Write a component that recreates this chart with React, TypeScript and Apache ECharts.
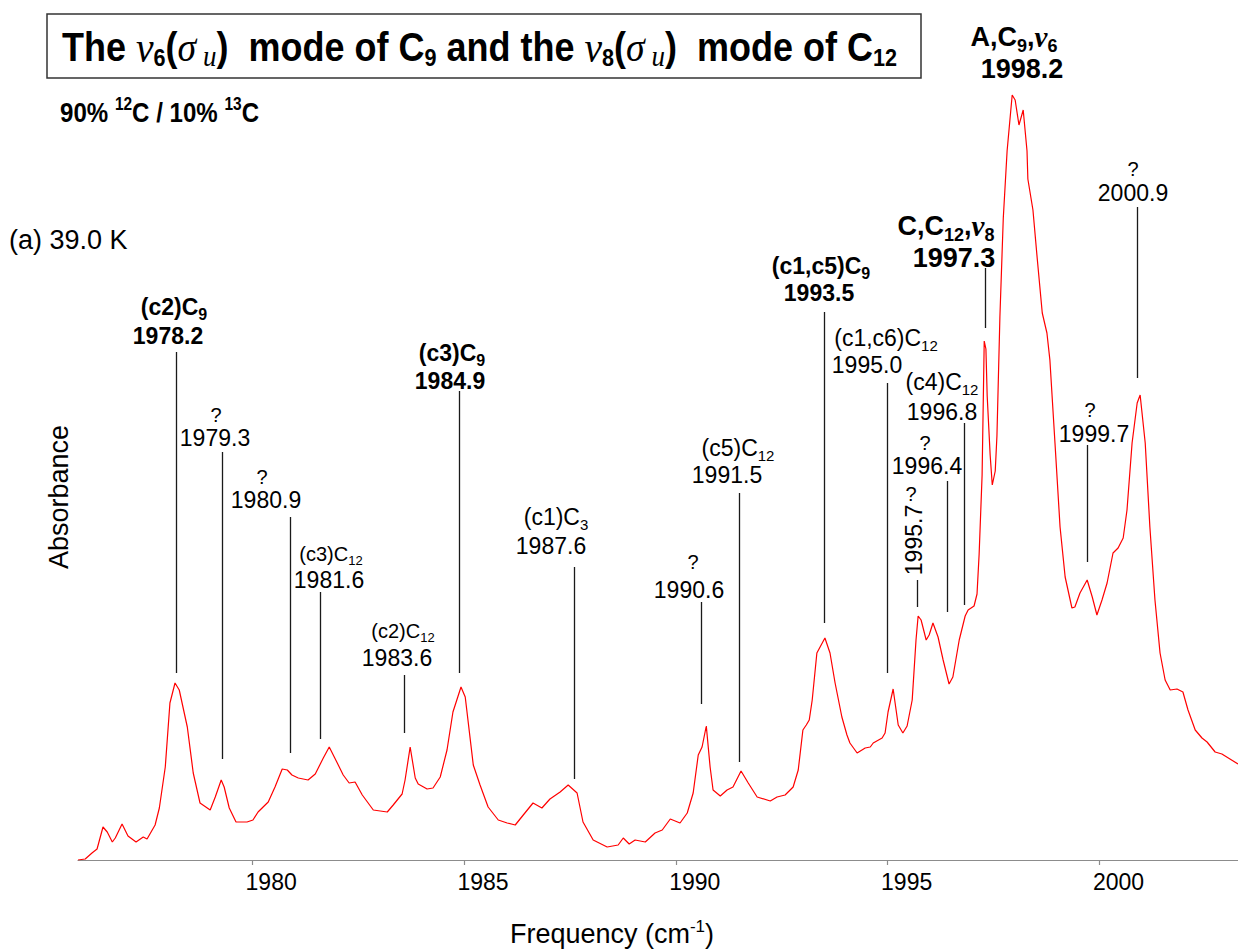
import React, { useEffect, useRef } from 'react';
import * as echarts from 'echarts';

// IR absorption spectrum, 90% 12C / 10% 13C, 39.0 K
const wavenumber = [
  1975.89, 1976.06, 1976.22, 1976.34, 1976.48, 1976.58, 1976.7, 1976.77, 1976.93, 1977.07,
  1977.26, 1977.43, 1977.52, 1977.71, 1977.81, 1977.95, 1978.06, 1978.18, 1978.28, 1978.47,
  1978.61, 1978.77, 1979.01, 1979.13, 1979.27, 1979.34, 1979.46, 1979.62, 1979.88, 1980.02,
  1980.14, 1980.38, 1980.54, 1980.71, 1980.83, 1980.94, 1981.09, 1981.32, 1981.49, 1981.68,
  1981.82, 1982.01, 1982.15, 1982.29, 1982.43, 1982.6, 1982.86, 1983.19, 1983.33, 1983.54,
  1983.61, 1983.73, 1983.85, 1983.92, 1984.13, 1984.27, 1984.44, 1984.6, 1984.74, 1984.93,
  1985.03, 1985.22, 1985.38, 1985.57, 1985.81, 1986.02, 1986.21, 1986.4, 1986.63, 1986.84,
  1987.03, 1987.27, 1987.46, 1987.67, 1987.81, 1988.05, 1988.38, 1988.64, 1988.76, 1988.9,
  1989.04, 1989.28, 1989.51, 1989.68, 1989.87, 1990.1, 1990.27, 1990.41, 1990.53, 1990.62,
  1990.72, 1990.81, 1990.88, 1991.05, 1991.21, 1991.35, 1991.54, 1991.71, 1991.92, 1992.23,
  1992.39, 1992.58, 1992.77, 1992.89, 1993.0, 1993.08, 1993.15, 1993.22, 1993.33, 1993.52,
  1993.64, 1993.76, 1993.92, 1994.04, 1994.11, 1994.28, 1994.47, 1994.59, 1994.66, 1994.87,
  1994.94, 1995.01, 1995.13, 1995.25, 1995.36, 1995.46, 1995.58, 1995.67, 1995.72, 1995.79,
  1995.91, 1995.98, 1996.07, 1996.19, 1996.31, 1996.45, 1996.54, 1996.69, 1996.83, 1996.9,
  1997.04, 1997.11, 1997.16, 1997.23, 1997.28, 1997.32, 1997.35, 1997.42, 1997.47, 1997.54,
  1997.58, 1997.65, 1997.73, 1997.82, 1997.94, 1998.01, 1998.1, 1998.2, 1998.29, 1998.31,
  1998.43, 1998.53, 1998.65, 1998.76, 1998.83, 1998.95, 1999.07, 1999.19, 1999.35, 1999.42,
  1999.54, 1999.71, 1999.83, 1999.94, 2000.06, 2000.18, 2000.32, 2000.44, 2000.56, 2000.65,
  2000.77, 2000.89, 2000.96, 2001.08, 2001.19, 2001.31, 2001.43, 2001.55, 2001.67, 2001.83,
  2001.97, 2002.09, 2002.26, 2002.42, 2002.54, 2002.73, 2002.89, 2003.08, 2003.27,
];

const absorbance = [
  0.0, 0.001, 0.007, 0.011, 0.033, 0.028, 0.018, 0.022, 0.036, 0.024,
  0.018, 0.023, 0.021, 0.035, 0.052, 0.093, 0.157, 0.177, 0.17, 0.133,
  0.087, 0.057, 0.05, 0.063, 0.08, 0.073, 0.052, 0.038, 0.038, 0.04,
  0.048, 0.058, 0.073, 0.091, 0.09, 0.085, 0.082, 0.08, 0.086, 0.102,
  0.113, 0.097, 0.085, 0.077, 0.078, 0.065, 0.05, 0.048, 0.055, 0.066,
  0.08, 0.113, 0.082, 0.076, 0.071, 0.072, 0.083, 0.11, 0.148, 0.173,
  0.163, 0.095, 0.075, 0.053, 0.04, 0.037, 0.035, 0.045, 0.057, 0.052,
  0.061, 0.068, 0.075, 0.067, 0.038, 0.02, 0.013, 0.015, 0.022, 0.016,
  0.02, 0.018, 0.027, 0.03, 0.041, 0.037, 0.047, 0.067, 0.105, 0.113,
  0.134, 0.093, 0.07, 0.064, 0.07, 0.073, 0.089, 0.077, 0.063, 0.059,
  0.063, 0.065, 0.073, 0.09, 0.13, 0.135, 0.14, 0.16, 0.207, 0.222,
  0.207, 0.177, 0.143, 0.125, 0.117, 0.107, 0.112, 0.113, 0.117, 0.122,
  0.127, 0.148, 0.171, 0.135, 0.127, 0.134, 0.16, 0.22, 0.244, 0.24,
  0.22, 0.225, 0.237, 0.223, 0.2, 0.176, 0.183, 0.22, 0.244, 0.25,
  0.254, 0.266, 0.306, 0.385, 0.519, 0.511, 0.464, 0.405, 0.375, 0.389,
  0.424, 0.543, 0.642, 0.709, 0.765, 0.76, 0.735, 0.75, 0.709, 0.681,
  0.65, 0.602, 0.547, 0.527, 0.5, 0.417, 0.333, 0.283, 0.252, 0.253,
  0.267, 0.28, 0.263, 0.245, 0.26, 0.277, 0.307, 0.312, 0.322, 0.35,
  0.417, 0.457, 0.465, 0.417, 0.333, 0.26, 0.207, 0.18, 0.17, 0.171,
  0.168, 0.15, 0.13, 0.122, 0.118, 0.108, 0.106, 0.101, 0.096,
];

const tickValues = [1980, 1985, 1990, 1995, 2000];

// Assigned band positions (cm-1) and their assignments
const bandPositions = [
  1978.2, 1979.3, 1980.9, 1981.6, 1983.6, 1984.9, 1987.6, 1990.6, 1991.5,
  1993.5, 1995.0, 1995.7, 1996.4, 1996.8, 1997.3, 1998.2, 1999.7, 2000.9,
];

const bandAssignments = [
  '{b|(c2)C}{bs|9}', '{q|?}', '{q|?}', '{s|(c3)C}{ss|12}', '{s|(c2)C}{ss|12}',
  '{b|(c3)C}{bs|9}', '{n|(c1)C}{ns|3}', '{q|?}', '{n|(c5)C}{ns|12}',
  '{b|(c1,c5)C}{bs|9}', '{n|(c1,c6)C}{ns|12}', '{q|?}', '{q|?}', '{n|(c4)C}{ns|12}',
  '{B|C,C}{Bs|12}{B|,}{Bnu|ν}{Bs|8}', '{B|A,C}{Bs|9}{B|,}{Bnu|ν}{Bs|6}', '{q|?}', '{q|?}',
];

const bandEmphasis = [
  'bold', 'plain', 'plain', 'plain', 'plain', 'bold', 'plain', 'plain', 'plain',
  'bold', 'plain', 'plain', 'plain', 'plain', 'big', 'big', 'plain', 'plain',
];

// Label placement (px) and marker extent (absorbance units):
// [nameX, nameY, valueX, valueY, lineTop, lineBottom, rotatedValue]
const bandLayout: [number, number, number, number, number | null, number | null, boolean][] = [
  [174, 307, 168, 336, 0.508, 0.187, false],
  [216, 415, 215, 438, 0.408, 0.101, false],
  [262, 477, 266, 500, 0.343, 0.107, false],
  [331, 554, 329, 580, 0.268, 0.121, false],
  [403, 631, 397, 658, 0.185, 0.127, false],
  [452, 353, 450, 381, 0.469, 0.187, false],
  [556, 517, 551, 546, 0.293, 0.081, false],
  [693, 562, 689, 590, 0.258, 0.156, false],
  [738, 448, 727, 475, 0.367, 0.098, false],
  [821, 266, 819, 293, 0.548, 0.237, false],
  [886, 338, 867, 365, 0.477, 0.187, false],
  [911, 494, 914, 540, 0.28, 0.253, true],
  [925, 443, 927, 466, 0.379, 0.248, false],
  [942, 382, 942, 412, 0.437, 0.255, false],
  [946, 226, 954, 258, 0.592, 0.532, false],
  [1014, 37, 1022, 69, null, null, false],
  [1090, 410, 1094, 434, 0.415, 0.298, false],
  [1133, 169, 1133, 193, 0.653, 0.482, false],
];

const sans = '"Liberation Sans", Arial, Helvetica, sans-serif';
const serif = '"Liberation Serif", "Times New Roman", serif';

// subscripts are lowered (and superscripts raised) by half their extra padding
const rich: Record<string, any> = {
  n: { fontFamily: sans, fontSize: 23, lineHeight: 23 },
  ns: { fontFamily: sans, fontSize: 15, lineHeight: 15, padding: [14, 0, 0, 0] },
  s: { fontFamily: sans, fontSize: 20, lineHeight: 20 },
  ss: { fontFamily: sans, fontSize: 13, lineHeight: 13, padding: [12, 0, 0, 0] },
  q: { fontFamily: sans, fontSize: 20, lineHeight: 20 },
  b: { fontFamily: sans, fontSize: 23, fontWeight: 'bold', lineHeight: 23 },
  bs: { fontFamily: sans, fontSize: 16, fontWeight: 'bold', lineHeight: 16, padding: [14, 0, 0, 0] },
  B: { fontFamily: sans, fontSize: 27, fontWeight: 'bold', lineHeight: 27 },
  Bs: { fontFamily: sans, fontSize: 18, fontWeight: 'bold', lineHeight: 18, padding: [17, 0, 0, 0] },
  Bnu: { fontFamily: serif, fontSize: 29, fontStyle: 'italic', fontWeight: 'bold', lineHeight: 27 },
  t: { fontFamily: sans, fontSize: 40, fontWeight: 'bold', lineHeight: 40 },
  tnu: { fontFamily: serif, fontSize: 44, fontStyle: 'italic', lineHeight: 40 },
  tsig: { fontFamily: serif, fontSize: 42, fontStyle: 'italic', lineHeight: 40 },
  tsub: { fontFamily: sans, fontSize: 24, fontWeight: 'bold', lineHeight: 24, padding: [22, 0, 0, 0] },
  tu: { fontFamily: serif, fontSize: 30, fontStyle: 'italic', lineHeight: 30, padding: [18, 0, 0, 0] },
  p: { fontFamily: sans, fontSize: 28, fontWeight: 'bold', lineHeight: 28 },
  psup: { fontFamily: sans, fontSize: 18, fontWeight: 'bold', lineHeight: 18, padding: [0, 0, 16, 0] },
  a: { fontFamily: sans, fontSize: 27, lineHeight: 27 },
  asup: { fontFamily: sans, fontSize: 17, lineHeight: 17, padding: [0, 0, 16, 0] },
};

function textEl(x: number, y: number, markup: string, align = 'center', extra: any = {}) {
  return {
    type: 'text',
    x,
    y,
    silent: true,
    ...extra,
    style: {
      text: markup,
      rich,
      fill: '#000',
      font: `23px ${sans}`,
      align,
      textAlign: align,
      verticalAlign: 'middle',
      textVerticalAlign: 'middle',
    },
  };
}

const titleMarkup =
  '{t|The }{tnu|ν}{tsub|6}{t|(}{tsig|σ}{tu| u}{t|)  mode of C}{tsub|9}{t| and the }' +
  '{tnu|ν}{tsub|8}{t|(}{tsig|σ}{tu| u}{t|)  mode of C}{tsub|12}';

export default function App() {
  const ref = useRef<HTMLDivElement>(null);

  useEffect(() => {
    if (!ref.current) return;
    const chart = echarts.init(ref.current, undefined, { renderer: 'svg' });

    const markers = bandPositions
      .map((f, i) => {
        const [, , , , top, bottom] = bandLayout[i];
        if (top === null || bottom === null) return null;
        return [{ coord: [f, top] }, { coord: [f, bottom] }];
      })
      .filter(Boolean);

    const graphics: any[] = [
      {
        type: 'rect',
        silent: true,
        shape: { x: 47, y: 14, width: 874, height: 64 },
        style: { fill: 'none', stroke: '#333', lineWidth: 1.5 },
      },
      textEl(62, 47, titleMarkup, 'left', { scaleX: 0.9 }),
      textEl(60, 112, '{p|90% }{psup|12}{p|C / 10% }{psup|13}{p|C}', 'left', { scaleX: 0.86 }),
      textEl(9, 240, '{a|(a) 39.0 K}', 'left'),
      textEl(59, 497, '{a|Absorbance}', 'center', { rotation: Math.PI / 2 }),
      textEl(612, 934, '{a|Frequency (cm}{asup|-1}{a|)}', 'center'),
    ];

    bandPositions.forEach((f, i) => {
      const [nx, ny, vx, vy, , , rotated] = bandLayout[i];
      const emph = bandEmphasis[i];
      const key = emph === 'big' ? 'B' : emph === 'bold' ? 'b' : 'n';
      const valueMarkup = `{${key}|${f.toFixed(1)}}`;
      graphics.push(textEl(nx, ny, bandAssignments[i]));
      if (rotated) {
        graphics.push(textEl(vx, vy, valueMarkup, 'center', { rotation: Math.PI / 2 }));
      } else {
        graphics.push(textEl(vx, vy, valueMarkup));
      }
    });

    chart.setOption({
      animation: false,
      backgroundColor: '#fff',
      grid: { left: 78, right: 0, top: 60, bottom: 89, containLabel: false },
      xAxis: {
        type: 'value',
        min: 1975.89,
        max: 2003.27,
        axisLine: { show: true, onZero: false, lineStyle: { color: '#8c8c8c', width: 1.2 } },
        axisTick: {
          show: true,
          length: 5,
          customValues: tickValues,
          lineStyle: { color: '#8c8c8c', width: 1.2 },
        },
        axisLabel: {
          customValues: tickValues,
          formatter: (v: number) => String(v),
          fontSize: 23,
          fontFamily: sans,
          color: '#000',
          margin: 10,
          padding: [0, 0, 0, 38],
        },
        splitLine: { show: false },
      },
      yAxis: { type: 'value', min: 0, max: 0.8, show: false },
      series: [
        {
          type: 'line',
          data: wavenumber.map((f, i) => [f, absorbance[i]]),
          showSymbol: false,
          symbol: 'none',
          lineStyle: { color: '#ff0000', width: 1.2 },
          emphasis: { disabled: true },
          markLine: {
            silent: true,
            symbol: ['none', 'none'],
            label: { show: false },
            emphasis: { disabled: true },
            lineStyle: { color: '#1a1a1a', width: 1.3, type: 'solid' },
            data: markers,
          },
        },
      ],
      graphic: graphics,
    });

    return () => chart.dispose();
  }, []);

  return (
    <div
      ref={ref}
      style={{ position: 'fixed', left: 0, top: 0, width: 1238, height: 949, background: '#fff' }}
    />
  );
}
